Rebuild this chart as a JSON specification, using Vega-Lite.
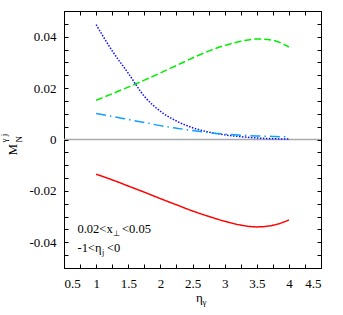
{
  "$schema": "https://vega.github.io/schema/vega-lite/v6.json",
  "width": 257,
  "height": 257,
  "autosize": "none",
  "padding": {"left": 64, "top": 11, "right": 22, "bottom": 47},
  "config": {
    "view": {"stroke": "black", "strokeWidth": 1},
    "font": "Liberation Serif",
    "text": {"font": "Liberation Serif", "color": "black"},
    "axis": {"domain": false, "grid": false, "labelFont": "Liberation Serif", "labelFontSize": 13, "labelColor": "black", "title": null}
  },
  "datasets": {
    "one": [{"k": 1}],
    "curves": [
      {"x": 1, "y": 0.0153, "s": "green"}, {"x": 1.25, "y": 0.0178, "s": "green"}, {"x": 1.5, "y": 0.0204, "s": "green"}, {"x": 1.75, "y": 0.0231, "s": "green"}, {"x": 2, "y": 0.0259, "s": "green"}, {"x": 2.25, "y": 0.0288, "s": "green"}, {"x": 2.5, "y": 0.0317, "s": "green"}, {"x": 2.75, "y": 0.0344, "s": "green"}, {"x": 3, "y": 0.0366, "s": "green"}, {"x": 3.25, "y": 0.0382, "s": "green"}, {"x": 3.5, "y": 0.0391, "s": "green"}, {"x": 3.75, "y": 0.0386, "s": "green"}, {"x": 4, "y": 0.0360, "s": "green"},
      {"x": 1, "y": 0.0447, "s": "blue"}, {"x": 1.25, "y": 0.0345, "s": "blue"}, {"x": 1.5, "y": 0.0258, "s": "blue"}, {"x": 1.75, "y": 0.0168, "s": "blue"}, {"x": 2, "y": 0.0110, "s": "blue"}, {"x": 2.25, "y": 0.0072, "s": "blue"}, {"x": 2.5, "y": 0.0046, "s": "blue"}, {"x": 2.75, "y": 0.0029, "s": "blue"}, {"x": 3, "y": 0.0018, "s": "blue"}, {"x": 3.25, "y": 0.0011, "s": "blue"}, {"x": 3.5, "y": 0.0006, "s": "blue"}, {"x": 3.75, "y": 0.0003, "s": "blue"}, {"x": 4, "y": 0.0002, "s": "blue"},
      {"x": 1, "y": 0.0101, "s": "cyan"}, {"x": 1.25, "y": 0.0090, "s": "cyan"}, {"x": 1.5, "y": 0.0078, "s": "cyan"}, {"x": 1.75, "y": 0.0066, "s": "cyan"}, {"x": 2, "y": 0.0054, "s": "cyan"}, {"x": 2.25, "y": 0.0044, "s": "cyan"}, {"x": 2.5, "y": 0.0035, "s": "cyan"}, {"x": 2.75, "y": 0.0027, "s": "cyan"}, {"x": 3, "y": 0.0021, "s": "cyan"}, {"x": 3.25, "y": 0.0017, "s": "cyan"}, {"x": 3.5, "y": 0.0014, "s": "cyan"}, {"x": 3.75, "y": 0.0012, "s": "cyan"}, {"x": 4, "y": 0.0010, "s": "cyan"},
      {"x": 1, "y": -0.0135, "s": "red"}, {"x": 1.25, "y": -0.0157, "s": "red"}, {"x": 1.5, "y": -0.0181, "s": "red"}, {"x": 1.75, "y": -0.0205, "s": "red"}, {"x": 2, "y": -0.0230, "s": "red"}, {"x": 2.25, "y": -0.0254, "s": "red"}, {"x": 2.5, "y": -0.0278, "s": "red"}, {"x": 2.75, "y": -0.0299, "s": "red"}, {"x": 3, "y": -0.0318, "s": "red"}, {"x": 3.25, "y": -0.0333, "s": "red"}, {"x": 3.5, "y": -0.0340, "s": "red"}, {"x": 3.75, "y": -0.0334, "s": "red"}, {"x": 4, "y": -0.0313, "s": "red"}
    ]
  },
  "layer": [
    {
      "data": {"name": "one"},
      "mark": {"type": "rule", "color": "#aaaaaa", "strokeWidth": 1.5},
      "encoding": {
        "y": {"datum": 0, "type": "quantitative", "scale": {"domain": [-0.05, 0.05]},
          "axis": {"orient": "right", "labels": false, "ticks": true, "tickColor": "#000000", "tickOpacity": 1, "tickWidth": 1, "tickSize": 4, "offset": -4, "zindex": 2,
            "values": [-0.05,-0.045,-0.04,-0.035,-0.03,-0.025,-0.02,-0.015,-0.01,-0.005,0,0.005,0.01,0.015,0.02,0.025,0.03,0.035,0.04,0.045,0.05]}}
      }
    },
    {
      "data": {"name": "curves"},
      "mark": {"type": "line", "strokeWidth": 1.5, "interpolate": "monotone"},
      "encoding": {
        "x": {"field": "x", "type": "quantitative", "scale": {"domain": [0.5, 4.5]},
          "axis": {"orient": "bottom", "labelPadding": 9, "ticks": true, "tickColor": "#000000", "tickOpacity": 1, "tickWidth": 1, "tickSize": 4, "offset": -4, "zindex": 2,
            "values": [0.5,0.75,1,1.25,1.5,1.75,2,2.25,2.5,2.75,3,3.25,3.5,3.75,4,4.25,4.5],
            "labelExpr": "abs(datum.value*2 - round(datum.value*2)) < 1e-6 ? toString(datum.value) : ''"}},
        "y": {"field": "y", "type": "quantitative", "scale": {"domain": [-0.05, 0.05]},
          "axis": {"orient": "left", "labelPadding": 8, "ticks": true, "tickColor": "#000000", "tickOpacity": 1, "tickWidth": 1, "tickSize": 4, "offset": -4, "zindex": 2,
            "values": [-0.05,-0.045,-0.04,-0.035,-0.03,-0.025,-0.02,-0.015,-0.01,-0.005,0,0.005,0.01,0.015,0.02,0.025,0.03,0.035,0.04,0.045,0.05],
            "labelExpr": "abs(datum.value/0.02 - round(datum.value/0.02)) < 1e-6 ? toString(datum.value) : ''"}},
        "detail": {"field": "s"},
        "color": {"field": "s", "type": "nominal", "legend": null,
          "scale": {"domain": ["green", "blue", "cyan", "red"], "range": ["#00ee00", "#1010ff", "#10a0ff", "#ff0000"]}},
        "strokeDash": {"field": "s", "type": "nominal", "legend": null,
          "scale": {"domain": ["green", "blue", "cyan", "red"], "range": [[7, 3], [1.5, 1.5], [10, 4, 1.5, 4], [1, 0]]}}
      }
    },
    {
      "data": {"name": "one"},
      "mark": {"type": "text", "text": "0.02<x", "fontSize": 12.5, "align": "left", "baseline": "alphabetic"},
      "encoding": {
        "x": {"datum": 0.71, "type": "quantitative",
          "axis": {"orient": "top", "labels": false, "ticks": true, "tickColor": "#000000", "tickOpacity": 1, "tickWidth": 1, "tickSize": 4, "offset": -4, "zindex": 2,
            "values": [0.5,0.75,1,1.25,1.5,1.75,2,2.25,2.5,2.75,3,3.25,3.5,3.75,4,4.25,4.5]}},
        "y": {"datum": -0.0365, "type": "quantitative", "axis": null}
      }
    },
    {
      "data": {"name": "one"},
      "mark": {"type": "text", "text": "⊥", "fontSize": 8, "align": "left", "baseline": "alphabetic", "dx": 36, "dy": 3},
      "encoding": {"x": {"datum": 0.71, "type": "quantitative", "axis": null}, "y": {"datum": -0.0365, "type": "quantitative", "axis": null}}
    },
    {
      "data": {"name": "one"},
      "mark": {"type": "text", "text": "<0.05", "fontSize": 12.5, "align": "left", "baseline": "alphabetic", "dx": 44.5},
      "encoding": {"x": {"datum": 0.71, "type": "quantitative", "axis": null}, "y": {"datum": -0.0365, "type": "quantitative", "axis": null}}
    },
    {
      "data": {"name": "one"},
      "mark": {"type": "text", "text": "-1<η", "fontSize": 12.5, "align": "left", "baseline": "alphabetic"},
      "encoding": {"x": {"datum": 0.71, "type": "quantitative", "axis": null}, "y": {"datum": -0.0437, "type": "quantitative", "axis": null}}
    },
    {
      "data": {"name": "one"},
      "mark": {"type": "text", "text": "j", "fontSize": 8, "align": "left", "baseline": "alphabetic", "dx": 24.5, "dy": 3},
      "encoding": {"x": {"datum": 0.71, "type": "quantitative", "axis": null}, "y": {"datum": -0.0437, "type": "quantitative", "axis": null}}
    },
    {
      "data": {"name": "one"},
      "mark": {"type": "text", "text": "<0", "fontSize": 12.5, "align": "left", "baseline": "alphabetic", "dx": 29.5},
      "encoding": {"x": {"datum": 0.71, "type": "quantitative", "axis": null}, "y": {"datum": -0.0437, "type": "quantitative", "axis": null}}
    },
    {
      "data": {"name": "one"},
      "mark": {"type": "text", "text": "η", "fontSize": 13, "align": "left", "baseline": "alphabetic", "dx": 3.5, "dy": 34},
      "encoding": {"x": {"datum": 2.5, "type": "quantitative", "axis": null}, "y": {"datum": -0.05, "type": "quantitative", "axis": null}}
    },
    {
      "data": {"name": "one"},
      "mark": {"type": "text", "text": "γ", "fontSize": 9, "align": "left", "baseline": "alphabetic", "dx": 10, "dy": 36.5},
      "encoding": {"x": {"datum": 2.5, "type": "quantitative", "axis": null}, "y": {"datum": -0.05, "type": "quantitative", "axis": null}}
    },
    {
      "data": {"name": "one"},
      "mark": {"type": "text", "text": "M", "fontSize": 13, "angle": 270, "align": "left", "baseline": "alphabetic", "dx": -16, "dy": -47},
      "encoding": {"x": {"datum": 0.5, "type": "quantitative", "axis": null}, "y": {"datum": 0, "type": "quantitative", "axis": null}}
    },
    {
      "data": {"name": "one"},
      "mark": {"type": "text", "text": "N", "fontSize": 9, "angle": 270, "align": "left", "baseline": "alphabetic", "dx": -3, "dy": -42},
      "encoding": {"x": {"datum": 0.5, "type": "quantitative", "axis": null}, "y": {"datum": 0, "type": "quantitative", "axis": null}}
    },
    {
      "data": {"name": "one"},
      "mark": {"type": "text", "text": "γ j", "fontSize": 9, "angle": 270, "align": "left", "baseline": "alphabetic", "dx": -3, "dy": -57},
      "encoding": {"x": {"datum": 0.5, "type": "quantitative", "axis": null}, "y": {"datum": 0, "type": "quantitative", "axis": null}}
    }
  ],
  "resolve": {"axis": {"x": "independent", "y": "independent"}}
}
